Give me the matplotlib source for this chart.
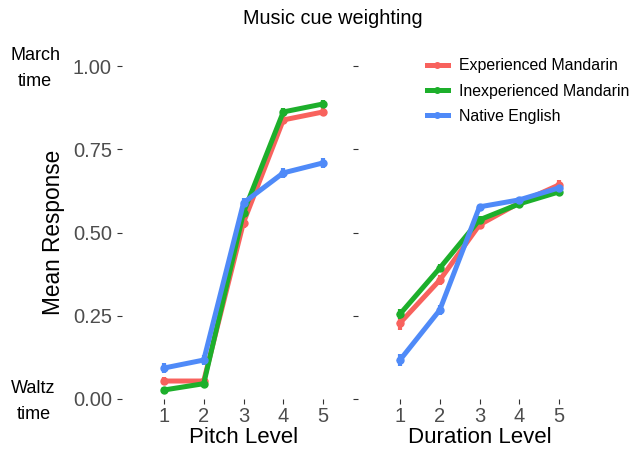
import matplotlib
matplotlib.use('Agg')
import matplotlib.pyplot as plt
import matplotlib.transforms as mtransforms
from matplotlib.lines import Line2D

plt.rcParams['font.family'] = ['Liberation Sans', 'DejaVu Sans']

# data
levels = [1, 2, 3, 4, 5]
groups = ['Experienced Mandarin', 'Inexperienced Mandarin', 'Native English']
colors = ['#F8625D', '#1DAF2B', '#4F8AF8']

pitch_exp = [0.054, 0.054, 0.53, 0.838, 0.862]
pitch_inexp = [0.027, 0.046, 0.56, 0.862, 0.886]
pitch_nat = [0.093, 0.117, 0.589, 0.679, 0.709]
pitch_err = [[0.012, 0.010, 0.015, 0.012, 0.012],
             [0.008, 0.008, 0.014, 0.012, 0.012],
             [0.014, 0.014, 0.014, 0.014, 0.014]]

dur_exp = [0.228, 0.357, 0.523, 0.589, 0.643]
dur_inexp = [0.255, 0.393, 0.538, 0.586, 0.622]
dur_nat = [0.117, 0.267, 0.577, 0.598, 0.634]
dur_err = [[0.020, 0.014, 0.012, 0.010, 0.014],
           [0.016, 0.012, 0.012, 0.010, 0.010],
           [0.018, 0.016, 0.010, 0.008, 0.010]]

yticks = [0.0, 0.25, 0.5, 0.75, 1.0]
ytick_labels = ['0.00', '0.25', '0.50', '0.75', '1.00']

fig = plt.figure(figsize=(6.35, 4.53), dpi=100)
W, H = 635, 453
bottom = (H - 399) / H
height = 333 / H
ax1 = fig.add_axes([156 / W, bottom, 175 / W, height])
ax2 = fig.add_axes([392 / W, bottom, 175 / W, height])

panels = [(ax1, [pitch_exp, pitch_inexp, pitch_nat], pitch_err, 'Pitch Level'),
          (ax2, [dur_exp, dur_inexp, dur_nat], dur_err, 'Duration Level')]

for ax, series, errs, xlabel in panels:
    for vals, err, col, name in zip(series, errs, colors, groups):
        ax.errorbar(levels, vals, yerr=err, color=col, lw=3.6, marker='o',
                    markersize=5, elinewidth=3, capsize=0,
                    clip_on=False, zorder=3)
    ax.set_xlim(0.8, 5.2)
    ax.set_ylim(0, 1)
    ax.set_xticks(levels)
    ax.set_yticks(yticks)
    for s in ax.spines.values():
        s.set_visible(False)
    ax.spines['left'].set_position(('outward', 24.5))
    ax.tick_params(axis='both', direction='out', length=3.6, width=0.8,
                   color='#333333', labelsize=14.5, labelcolor='#4d4d4d', pad=2)
    ax.tick_params(axis='y', pad=3.6)
    ax.set_xlabel(xlabel, fontsize=16, labelpad=1)

ax1.set_yticklabels(ytick_labels)
ax2.set_yticklabels([])
ax1.set_ylabel('Mean Response', fontsize=16.3)
ax1.yaxis.set_label_coords(-0.52, 0.5)

trans = mtransforms.blended_transform_factory(ax1.transAxes, ax1.transData)
ax1.text(-0.69, 0.993, 'March\ntime', transform=trans, ha='center', va='center',
         fontsize=13, linespacing=1.7)
ax1.text(-0.7, -0.008, 'Waltz\ntime', transform=trans, ha='center', va='center',
         fontsize=13, linespacing=1.7)

handles = [Line2D([], [], color=c, lw=3.6, marker='o', markersize=4) for c in colors]
fig.legend(handles, groups, loc='center left', bbox_to_anchor=(427 / W, 1 - 91 / H),
           frameon=False, fontsize=11.4, handlelength=1.3, handletextpad=0.75,
           labelspacing=0.65, borderpad=0, borderaxespad=0)

fig.suptitle('Music cue weighting', x=0.524, y=1 - 19 / H, va='center', fontsize=14.3)

fig.savefig('out.png', dpi=100)
